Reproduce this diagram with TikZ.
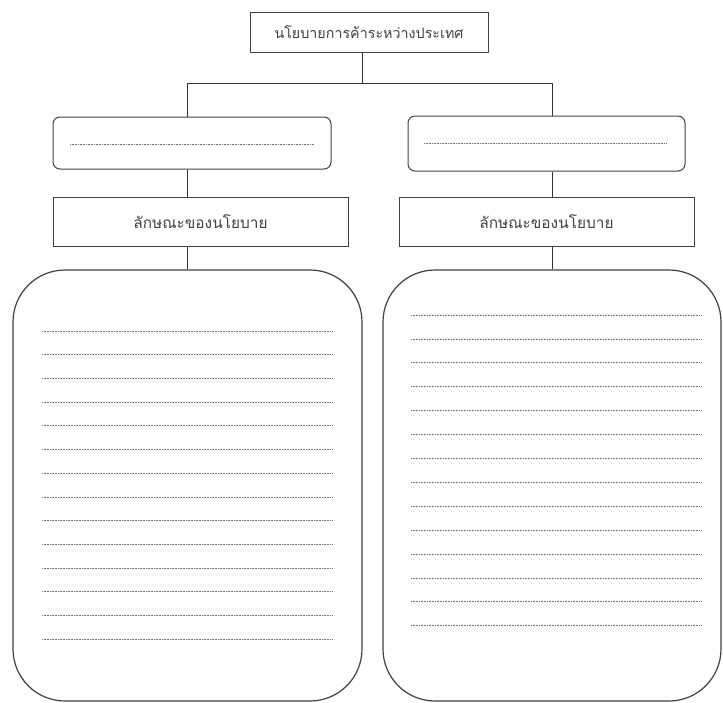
\documentclass[tikz,border=0pt]{standalone}
\usepackage{fontspec}
\newfontfamily\thaifont[Script=Thai]{Loma}
\usetikzlibrary{positioning}

\begin{document}
\begin{tikzpicture}[x=1pt, y=-1pt,
        boxline/.style={draw=black!75, line width=1pt},
        titlebox/.style={boxline, rectangle, inner sep=0pt, font=\thaifont\fontsize{15.4}{18}\selectfont, text=black!75},
        askbox/.style={boxline, rectangle, rounded corners=7pt, inner sep=0pt},
        notebox/.style={boxline, line width=1.2pt, rectangle, rounded corners=52pt, inner sep=0pt},
        dotline/.style={black!55, line width=0.7pt, dash pattern=on 0.7pt off 0.9pt},
        link/.style={black!80, line width=1pt}]
        \useasboundingbox (0, 0) rectangle (723, 702);

        \node[titlebox, minimum width=238, minimum height=40, font=\thaifont\fontsize{14.3}{17}\selectfont] (policy) at (369, 32) {นโยบายการค้าระหว่างประเทศ};
        \node[askbox, minimum width=278, minimum height=52] (askL) at (192, 143) {};
        \node[askbox, minimum width=277, minimum height=55] (askR) at (546.5, 143.5) {};
        \node[titlebox, minimum width=295, minimum height=49] (featL) at (200.5, 221.5) {ลักษณะของนโยบาย};
        \node[titlebox, minimum width=295, minimum height=49] (featR) at (546.5, 221.5) {ลักษณะของนโยบาย};
        \node[notebox, minimum width=349, minimum height=431] (noteL) at (187.5, 485.5) {};
        \node[notebox, minimum width=338, minimum height=431] (noteR) at (552, 485.5) {};
        \coordinate (hub) at (362, 83);

        % blanks to fill in
        \draw[dotline] (70, 144) -- (314, 144)
            (424, 143) -- (667, 143);
        \foreach \i in {0,...,13} {
            \draw[dotline] (42, 331 + 23.7*\i) -- (332, 331 + 23.7*\i);
            \draw[dotline] (411, 315 + 23.9*\i) -- (702, 315 + 23.9*\i);
        }

        \draw[link] (policy.south -| hub) to (hub)
            (noteL.north |- hub) to (noteR.north |- hub)
            (noteL.north |- hub) to (noteL.north |- askL.north)
            (noteL.north |- askL.south) to (noteL.north |- featL.north)
            (noteL.north |- featL.south) to (noteL.north)
            (noteR.north |- hub) to (noteR.north |- askR.north)
            (noteR.north |- askR.south) to (noteR.north |- featR.north)
            (noteR.north |- featR.south) to (noteR.north);
    \end{tikzpicture}
\end{document}
